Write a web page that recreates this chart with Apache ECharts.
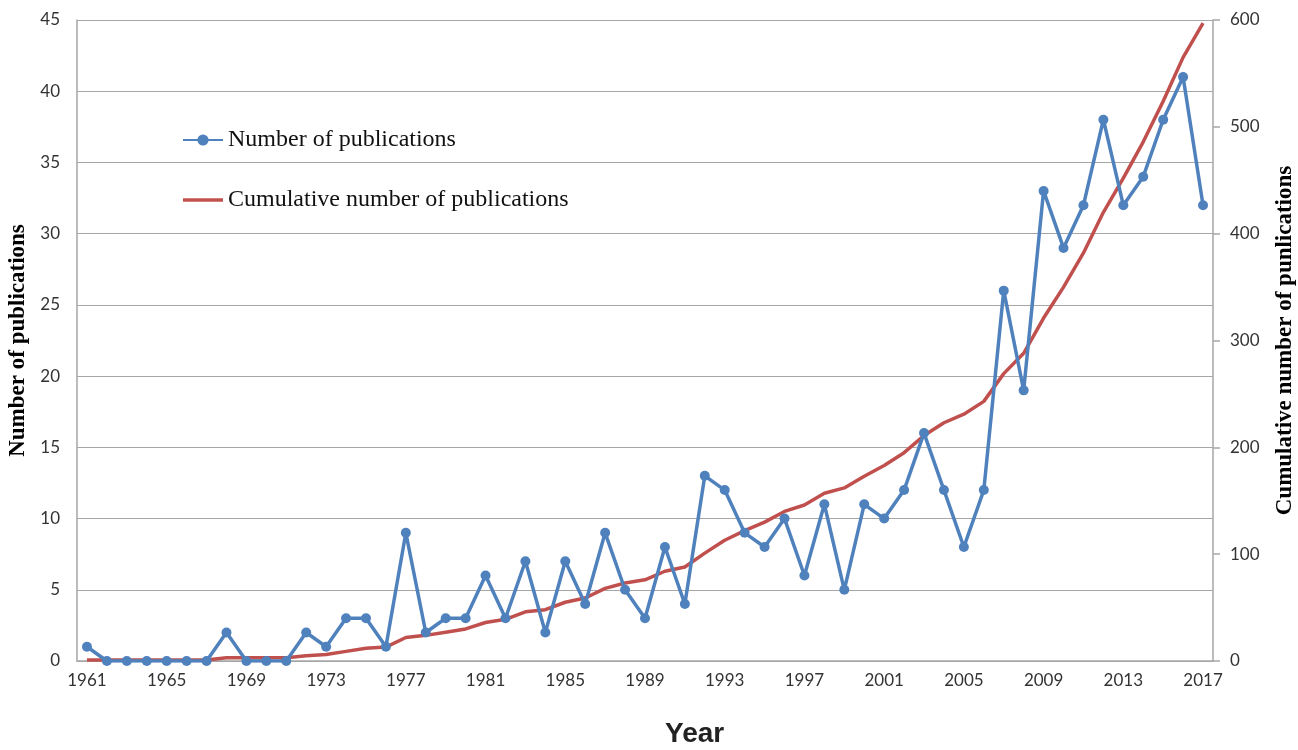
<!DOCTYPE html>
<html>
<head>
<meta charset="utf-8">
<script src="https://cdn.jsdelivr.net/npm/echarts@6/dist/echarts.min.js"></script>
<style>
  html, body {margin: 0; padding: 0; background: #fff;}
  #chart {width: 1298px; height: 750px;}
</style>
</head>
<body>
<div id="chart"></div>
<script>
const years = [];
for (let y = 1961; y <= 2017; y++) years.push(String(y));

const publications = [
  1, 0, 0, 0, 0, 0, 0, 2, 0, 0,
  0, 2, 1, 3, 3, 1, 9, 2, 3, 3,
  6, 3, 7, 2, 7, 4, 9, 5, 3, 8,
  4, 13, 12, 9, 8, 10, 6, 11, 5, 11,
  10, 12, 16, 12, 8, 12, 26, 19, 33, 29,
  32, 38, 32, 34, 38, 41, 32
];

const cumulative = [
  1, 1, 1, 1, 1, 1, 1, 3, 3, 3,
  3, 5, 6, 9, 12, 13, 22, 24, 27, 30,
  36, 39, 46, 48, 55, 59, 68, 73, 76, 84,
  88, 101, 113, 122, 130, 140, 146, 157, 162, 173,
  183, 195, 211, 223, 231, 243, 269, 288, 321, 350,
  382, 420, 452, 486, 524, 565, 597
];

const gray = '#A6A6A6';
const labelFont = {color: '#333', fontSize: 17, fontFamily: 'Lato'};
const titleFont = {fontFamily: 'Liberation Serif', fontWeight: 'bold', fontSize: 23, color: '#000'};

const chart = echarts.init(document.getElementById('chart'));
chart.setOption({
  animation: false,
  grid: {left: 77, right: 85, top: 20, bottom: 89, outerBoundsMode: 'none'},
  legend: {
    orient: 'vertical',
    left: 177,
    top: 123,
    itemGap: 36,
    itemWidth: 40,
    itemHeight: 14,
    textStyle: {color: '#111', fontSize: 24, fontFamily: 'Liberation Serif'},
    data: [
      {name: 'Number of publications'},
      {name: 'Cumulative number of publications', icon: 'path://M0,0 L40,0 L40,3.5 L0,3.5 Z'}
    ]
  },
  xAxis: {
    type: 'category',
    data: years,
    axisLine: {lineStyle: {color: gray, width: 1.5}},
    axisTick: {show: false},
    axisLabel: {...labelFont, interval: 3, margin: 11}
  },
  yAxis: [
    {
      type: 'value',
      min: 0, max: 45, interval: 5,
      name: 'Number of publications',
      nameLocation: 'middle',
      nameRotate: 90,
      nameGap: 47,
      nameTextStyle: titleFont,
      axisLine: {show: true, lineStyle: {color: gray, width: 1.5}},
      axisTick: {show: false},
      axisLabel: {...labelFont, margin: 17},
      splitLine: {lineStyle: {color: gray, width: 1}}
    },
    {
      type: 'value',
      min: 0, max: 600, interval: 100,
      position: 'right',
      name: 'Cumulative number of punlications',
      nameLocation: 'middle',
      nameRotate: 90,
      nameGap: 61,
      nameTextStyle: titleFont,
      axisLine: {show: true, lineStyle: {color: gray, width: 1.5}},
      axisTick: {show: true, length: 7, lineStyle: {color: gray, width: 1.5}},
      axisLabel: {...labelFont, margin: 17},
      splitLine: {show: false}
    }
  ],
  graphic: [{
    type: 'text',
    left: 665,
    top: 720,
    style: {text: 'Year', fontSize: 28, fontFamily: 'Liberation Sans', fontWeight: 'bold', fill: '#222'}
  }],
  series: [
    {
      name: 'Number of publications',
      type: 'line',
      yAxisIndex: 0,
      data: publications,
      symbol: 'circle',
      symbolSize: 10,
      itemStyle: {color: '#4F81BD'},
      lineStyle: {color: '#4F81BD', width: 3.5},
      z: 3
    },
    {
      name: 'Cumulative number of publications',
      type: 'line',
      yAxisIndex: 1,
      data: cumulative,
      symbol: 'none',
      itemStyle: {color: '#C0504D'},
      lineStyle: {color: '#C0504D', width: 3.5},
      z: 2
    }
  ]
});
</script>
</body>
</html>
